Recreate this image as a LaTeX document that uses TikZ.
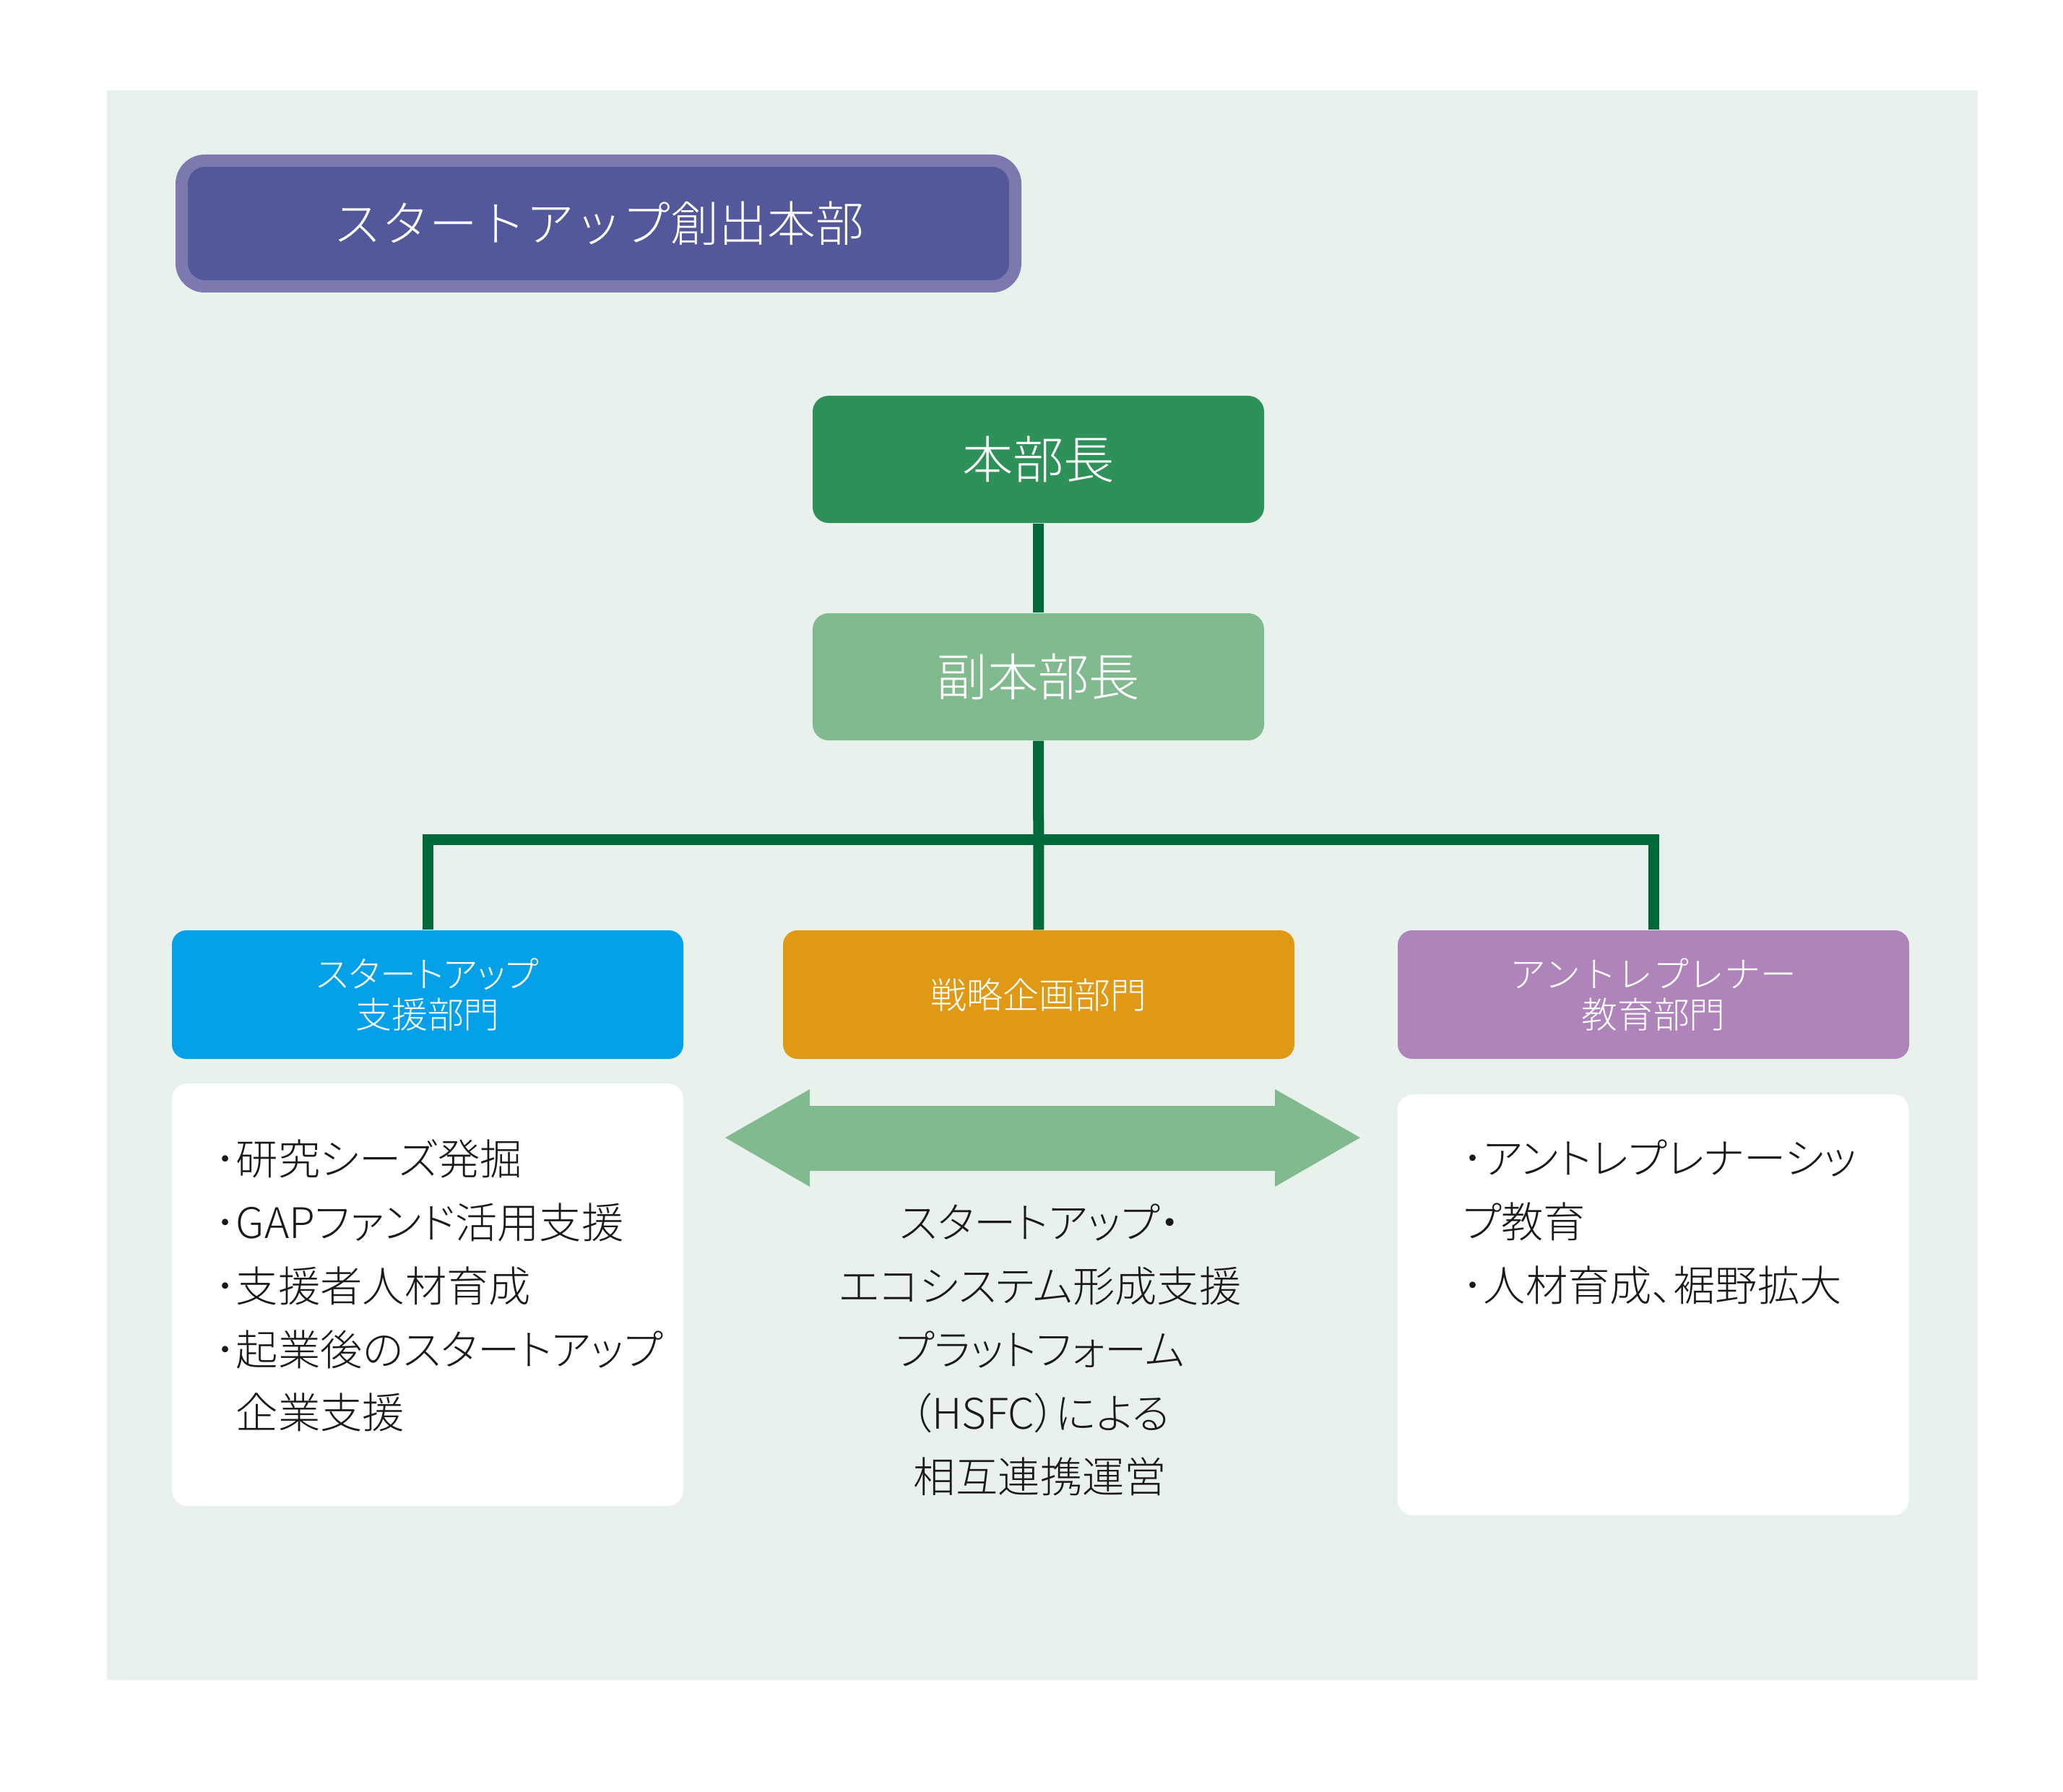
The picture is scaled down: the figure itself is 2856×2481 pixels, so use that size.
\documentclass[tikz,border=0pt]{standalone}
\usepackage{fontspec}
\IfFontExistsTF{Noto Sans CJK JP Light}{\setmainfont{Noto Sans CJK JP Light}}{\setmainfont{Noto Sans CJK JP}}
\usepackage{tikz}
\definecolor{bg}{HTML}{E9F1ED}
\definecolor{purple1}{HTML}{7B79AE}
\definecolor{purple2}{HTML}{52589A}
\definecolor{green2}{HTML}{2E915A}
\definecolor{green6}{HTML}{82BA8F}
\definecolor{green0}{HTML}{00693A}
\definecolor{cyan4}{HTML}{04A1E8}
\definecolor{orange4}{HTML}{DF9914}
\definecolor{violet6}{HTML}{AE84BA}
\definecolor{ink}{HTML}{1A1A1A}

\begin{document}
\begin{tikzpicture}[x=0.1mm, y=-0.1mm,
  head/.style={fill=#1, rounded corners=2.2mm, minimum width=62.5mm, minimum height=17.6mm, text=white, font=\fontsize{20}{24}\selectfont},
  dept/.style={fill=#1, rounded corners=2mm, minimum width=70.8mm, minimum height=17.8mm, text=white, align=center, font=\fontsize{14.2}{16}\selectfont},
  tight/.style={font=\fontsize{14.2}{16}\selectfont\addfontfeatures{RawFeature=+palt}},
  card/.style={fill=white, rounded corners=2.2mm, minimum width=70.8mm, minimum height=#1},
  body/.style={text=ink, inner sep=0pt, font=\fontsize{16.6}{25}\selectfont\addfontfeatures{RawFeature=+palt}},
  link/.style={draw=green0, line width=1.5mm}]
\useasboundingbox (0,0) rectangle (2856,2481);
\fill[white] (0,0) rectangle (2856,2481);
\fill[bg] (148,125) rectangle (2738,2326);

% title
\node[draw=purple1, fill=purple2, line width=1.7mm, rounded corners=3.2mm, minimum width=115.4mm, minimum height=17.4mm, text=white, font=\fontsize{19}{23}\selectfont] (title) at (828.5,309.5) {スタートアップ創出本部};

% heads
\node[head=green2] (chief) at (1437.5,636) {本部長};
\node[head=green6] (vice) at (1437.5,937) {副本部長};

% departments
\node[dept=cyan4, tight] (sup) at (592,1377) {スタートアップ\\支援部門};
\node[dept=orange4, tight] (strat) at (1438,1377) {戦略企画部門};
\node[dept=violet6] (edu) at (2289,1377) {アントレプレナー\\教育部門};

\coordinate (bar) at (1437.5,1162);
\draw[link] (chief) -- (vice);
\draw[link] (vice) -- (strat);
\draw[link] (sup) |- (bar) -| (edu);

% cards
\node[card=58.5mm] (supCard) at (592,1792.5) {};
\node[card=58.3mm] (eduCard) at (2288.5,1806.5) {};
\node[body, anchor=west, align=left] (supText) at (297,1780) {･研究シーズ発掘\\･GAPファンド活用支援\\･支援者人材育成\\･起業後のスタートアップ\\\phantom{･}企業支援};
\node[body, anchor=west, align=left] (eduText) at (2024,1692) {･アントレプレナーシッ\\プ教育\\･人材育成、裾野拡大};

% platform
\fill[green6] (1004,1575) -- (1121,1508) -- (1121,1531) -- (1765,1531) -- (1765,1508) -- (1883,1575) -- (1765,1643) -- (1765,1621) -- (1121,1621) -- (1121,1643) -- cycle;
\node[body, align=center] (hsfc) at (1440,1869) {スタートアップ・\\エコシステム形成支援\\プラットフォーム\\（HSFC）による\\相互連携運営};
\end{tikzpicture}
\end{document}
